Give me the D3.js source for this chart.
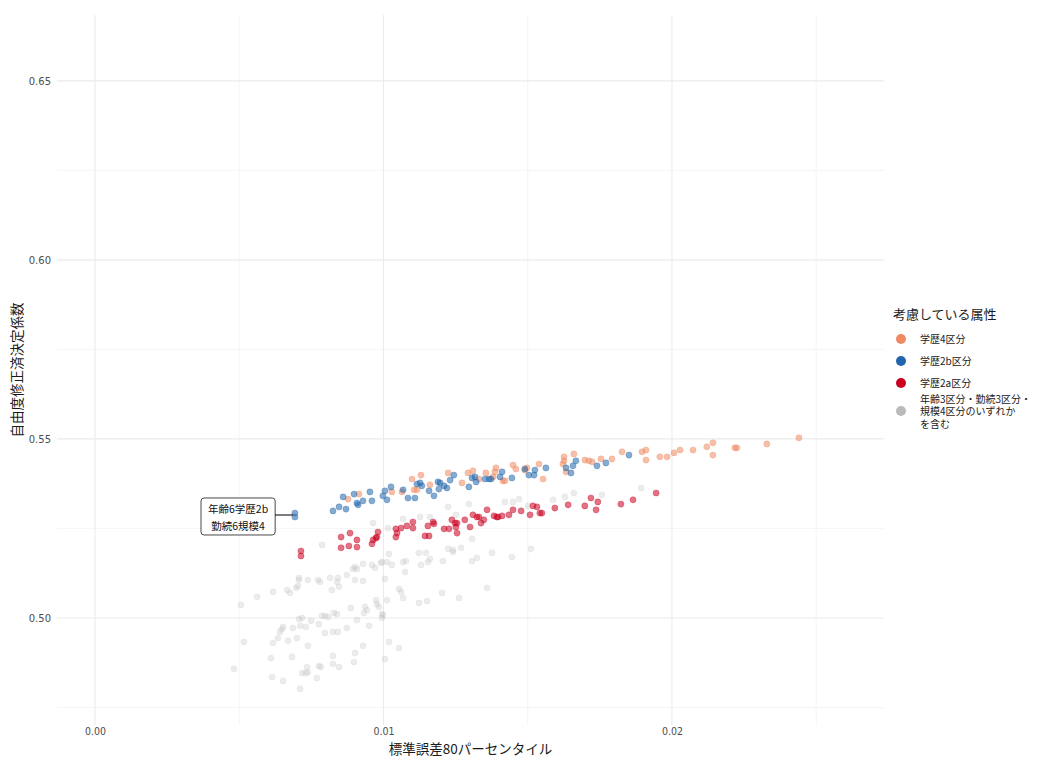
<!DOCTYPE html>
<html><head><meta charset="utf-8">
<script src="https://cdn.jsdelivr.net/npm/d3@7"></script>
<style>
body{margin:0;background:#fff;}
text{font-family:"Noto Sans CJK JP","Noto Sans",sans-serif;}
</style></head>
<body><svg id="c" width="1056" height="758"></svg>
<script>
// ---- data ----
const xMajorTicks = [0, 0.01, 0.02];
const xMinorTicks = [0.005, 0.015, 0.025];
const yMajorTicks = [0.50, 0.55, 0.60, 0.65];
const yMinorTicks = [0.475, 0.525, 0.575, 0.625];
const xLabelTitle = "標準誤差80パーセンタイル";
const yLabelTitle = "自由度修正済決定係数";
const legendTitle = "考慮している属性";
const categories = ["学歴4区分", "学歴2b区分", "学歴2a区分", "年齢3区分・勤続3区分・\n規模4区分のいずれか\nを含む"];

const orangePts = [[0.02440,0.5503],[0.02329,0.5486],[0.02218,0.5475],[0.02225,0.5475],[0.02142,0.5489],[0.02142,0.5455],[0.02121,0.5478],[0.02073,0.5469],[0.02028,0.5469],[0.02007,0.5461],[0.01983,0.5450],[0.01958,0.5450],[0.01910,0.5469],[0.01896,0.5464],[0.01910,0.5441],[0.01827,0.5464],[0.01792,0.5444],[0.01754,0.5444],[0.01723,0.5436],[0.01712,0.5439],[0.01698,0.5441],[0.01660,0.5458],[0.01626,0.5450],[0.01626,0.5439],[0.01622,0.5430],[0.01633,0.5408],[0.01553,0.5388],[0.01539,0.5430],[0.01497,0.5419],[0.01490,0.5413],[0.01459,0.5416],[0.01449,0.5427],[0.01414,0.5383],[0.01421,0.5383],[0.00877,0.5332],[0.00915,0.5346],[0.01029,0.5352],[0.01064,0.5352],[0.01106,0.5358],[0.01116,0.5358],[0.01099,0.5388],[0.01130,0.5399],[0.01161,0.5372],[0.01224,0.5405],[0.01272,0.5377],[0.01293,0.5405],[0.01310,0.5411],[0.01331,0.5388],[0.01355,0.5405],[0.01386,0.5408],[0.01390,0.5419],[0.01380,0.5394]];

const bluePts = [[0.01851,0.5455],[0.01771,0.5433],[0.01740,0.5425],[0.01667,0.5439],[0.01657,0.5425],[0.01650,0.5405],[0.01633,0.5419],[0.01563,0.5419],[0.01525,0.5413],[0.01522,0.5399],[0.01504,0.5399],[0.01490,0.5416],[0.01445,0.5391],[0.01411,0.5408],[0.00825,0.5299],[0.00846,0.5310],[0.00870,0.5304],[0.00860,0.5338],[0.00898,0.5346],[0.00908,0.5321],[0.00912,0.5316],[0.00929,0.5327],[0.00953,0.5352],[0.00960,0.5327],[0.00998,0.5341],[0.01012,0.5330],[0.01005,0.5355],[0.01026,0.5366],[0.01068,0.5358],[0.01085,0.5335],[0.01109,0.5335],[0.01116,0.5374],[0.01127,0.5377],[0.01133,0.5369],[0.01158,0.5355],[0.01175,0.5341],[0.01189,0.5380],[0.01196,0.5377],[0.01210,0.5369],[0.01220,0.5363],[0.01192,0.5360],[0.01231,0.5385],[0.01244,0.5399],[0.01296,0.5366],[0.01307,0.5391],[0.01317,0.5394],[0.01321,0.5380],[0.01352,0.5388],[0.01366,0.5388],[0.01373,0.5388],[0.01404,0.5394],[0.00693,0.5293],[0.00693,0.5282]];

const redPts = [[0.01945,0.5349],[0.01865,0.5330],[0.01823,0.5318],[0.01743,0.5324],[0.01719,0.5335],[0.01737,0.5302],[0.01698,0.5313],[0.01640,0.5316],[0.01594,0.5307],[0.01549,0.5293],[0.01542,0.5293],[0.01532,0.5310],[0.01518,0.5313],[0.01508,0.5288],[0.01477,0.5299],[0.01449,0.5302],[0.01435,0.5288],[0.01411,0.5285],[0.00853,0.5226],[0.00884,0.5237],[0.00908,0.5218],[0.00853,0.5196],[0.00880,0.5201],[0.00908,0.5198],[0.00960,0.5207],[0.00964,0.5218],[0.00974,0.5223],[0.00977,0.5226],[0.00981,0.5240],[0.00714,0.5187],[0.00714,0.5173],[0.01043,0.5249],[0.01047,0.5237],[0.01043,0.5226],[0.01061,0.5251],[0.01081,0.5257],[0.01102,0.5251],[0.01102,0.5268],[0.01144,0.5229],[0.01158,0.5229],[0.01154,0.5257],[0.01172,0.5268],[0.01175,0.5263],[0.01210,0.5249],[0.01227,0.5249],[0.01237,0.5274],[0.01248,0.5265],[0.01255,0.5265],[0.01251,0.5254],[0.01255,0.5237],[0.01282,0.5274],[0.01300,0.5254],[0.01310,0.5288],[0.01324,0.5282],[0.01331,0.5282],[0.01338,0.5265],[0.01348,0.5274],[0.01359,0.5302],[0.01383,0.5285],[0.01393,0.5282],[0.01397,0.5282]];

const grayPts = [[0.01893,0.5363],[0.01757,0.5344],[0.01660,0.5349],[0.01629,0.5338],[0.01588,0.5330],[0.01501,0.5313],[0.01470,0.5332],[0.01449,0.5324],[0.01421,0.5324],[0.00995,0.5156],[0.01012,0.5156],[0.01029,0.5148],[0.01019,0.5179],[0.01068,0.5156],[0.01078,0.5159],[0.01075,0.5128],[0.01123,0.5182],[0.01147,0.5182],[0.01130,0.5148],[0.01154,0.5156],[0.01161,0.5165],[0.01206,0.5159],[0.01224,0.5193],[0.01241,0.5190],[0.01241,0.5184],[0.01269,0.5196],[0.01307,0.5159],[0.01324,0.5168],[0.01307,0.5221],[0.01376,0.5182],[0.01445,0.5170],[0.01511,0.5193],[0.01005,0.5109],[0.01054,0.5081],[0.01061,0.5073],[0.01068,0.5056],[0.01012,0.5050],[0.01203,0.5070],[0.01262,0.5056],[0.01359,0.5084],[0.01123,0.5042],[0.01151,0.5047],[0.00998,0.5008],[0.00995,0.5000],[0.01019,0.4933],[0.01054,0.4916],[0.01005,0.4885],[0.01068,0.5277],[0.01161,0.5282],[0.01224,0.5310],[0.01296,0.5318],[0.01251,0.5288],[0.01127,0.5282],[0.01016,0.5251],[0.00964,0.5265],[0.00787,0.5204],[0.00707,0.5106],[0.00738,0.5106],[0.00773,0.5106],[0.00780,0.5101],[0.00815,0.5112],[0.00842,0.5112],[0.00839,0.5101],[0.00873,0.5120],[0.00901,0.5142],[0.00894,0.5137],[0.00908,0.5137],[0.00929,0.5151],[0.00960,0.5148],[0.00971,0.5140],[0.00991,0.5154],[0.00821,0.5078],[0.00846,0.5087],[0.00617,0.5073],[0.00562,0.5059],[0.00666,0.5078],[0.00676,0.5070],[0.00697,0.5084],[0.00704,0.5089],[0.00506,0.5036],[0.00707,0.5112],[0.00901,0.5106],[0.00929,0.5103],[0.00887,0.5028],[0.00936,0.5031],[0.00943,0.5022],[0.00932,0.5014],[0.00974,0.5050],[0.00977,0.5039],[0.00984,0.5031],[0.00995,0.5011],[0.00908,0.4994],[0.00950,0.4978],[0.00873,0.4972],[0.00842,0.4961],[0.00825,0.4961],[0.00797,0.4958],[0.00776,0.4983],[0.00749,0.4992],[0.00731,0.4975],[0.00711,0.4978],[0.00686,0.4972],[0.00718,0.5000],[0.00707,0.4997],[0.00787,0.5006],[0.00797,0.5006],[0.00808,0.5003],[0.00828,0.5014],[0.00839,0.5011],[0.00652,0.4975],[0.00648,0.4969],[0.00641,0.4961],[0.00634,0.4944],[0.00617,0.4930],[0.00669,0.4936],[0.00700,0.4944],[0.00516,0.4933],[0.00738,0.4922],[0.00683,0.4891],[0.00610,0.4888],[0.00825,0.4894],[0.00825,0.4872],[0.00846,0.4863],[0.00901,0.4902],[0.00898,0.4877],[0.00929,0.4922],[0.00735,0.4863],[0.00776,0.4866],[0.00783,0.4863],[0.00718,0.4846],[0.00731,0.4846],[0.00738,0.4849],[0.00769,0.4832],[0.00614,0.4835],[0.00652,0.4824],[0.00711,0.4802],[0.00482,0.4858]];

const labelLines = ["年齢6学歴2b", "勤続6規模4"];
const labelPos = [0.00496, 0.5282];
const labelTarget = [0.00693, 0.52875];

// ---- layout ----
const colors = ["#EF8A62", "#2166AC", "#CA0020", "#BABABA"];
const svg = d3.select("#c");
const P = {l: 57, r: 884, t: 15, b: 725};
const x = d3.scaleLinear().domain([-0.001317, 0.02735]).range([P.l, P.r]);
const y = d3.scaleLinear().domain([0.4701, 0.6684]).range([P.b, P.t]);

const grid = svg.append("g");
grid.selectAll(".vmin").data(xMinorTicks).join("line")
  .attr("x1", d => x(d)).attr("x2", d => x(d)).attr("y1", P.t).attr("y2", P.b)
  .attr("stroke", "#F2F2F2").attr("stroke-width", 0.8);
grid.selectAll(".hmin").data(yMinorTicks).join("line")
  .attr("y1", d => y(d)).attr("y2", d => y(d)).attr("x1", P.l).attr("x2", P.r)
  .attr("stroke", "#F2F2F2").attr("stroke-width", 0.8);
grid.selectAll(".vmaj").data(xMajorTicks).join("line")
  .attr("x1", d => x(d)).attr("x2", d => x(d)).attr("y1", P.t).attr("y2", P.b)
  .attr("stroke", "#EBEBEB").attr("stroke-width", 1.1);
grid.selectAll(".hmaj").data(yMajorTicks).join("line")
  .attr("y1", d => y(d)).attr("y2", d => y(d)).attr("x1", P.l).attr("x2", P.r)
  .attr("stroke", "#EBEBEB").attr("stroke-width", 1.1);

// axes (tick labels only)
const xAxis = d3.axisBottom(x).tickValues(xMajorTicks).tickFormat(d3.format(".2f")).tickSize(0).tickPadding(3);
const gx = svg.append("g").attr("transform", `translate(0,${P.b})`).call(xAxis);
gx.select(".domain").remove();
gx.selectAll("text").attr("fill", "#4D4D4D").style("font-size", "10.5px").style("font-family", "'Liberation Sans Narrow','DejaVu Sans Condensed',sans-serif");
const yAxis = d3.axisLeft(y).tickValues(yMajorTicks).tickFormat(d3.format(".2f")).tickSize(0).tickPadding(6);
const gy = svg.append("g").attr("transform", `translate(${P.l},0)`).call(yAxis);
gy.select(".domain").remove();
gy.selectAll("text").attr("fill", "#4D4D4D").style("font-size", "10px").style("font-family", "'DejaVu Sans',sans-serif");

// axis titles
svg.append("text").attr("x", (P.l + P.r) / 2).attr("y", 754).attr("text-anchor", "middle")
  .style("font-size", "13.5px").attr("fill", "#1a1a1a").text(xLabelTitle);
svg.append("text").attr("transform", `translate(22,${(P.t + P.b) / 2}) rotate(-90)`).attr("text-anchor", "middle")
  .style("font-size", "13.5px").attr("fill", "#1a1a1a").text(yLabelTitle);

// points
const series = [[grayPts, 3], [orangePts, 0], [redPts, 2], [bluePts, 1]];
series.forEach(([pts, ci]) => {
  const isGray = ci === 3;
  svg.append("g").selectAll("circle").data(pts).join("circle")
    .attr("cx", d => x(d[0])).attr("cy", d => y(d[1])).attr("r", 3.1)
    .attr("fill", colors[ci]).attr("fill-opacity", isGray ? 0.27 : 0.55)
    .attr("stroke", colors[ci]).attr("stroke-opacity", isGray ? 0.15 : 0.35).attr("stroke-width", 0.8);
});

// label
const lg = svg.append("g");
const lx = x(labelPos[0]), ly = y(labelPos[1]);
const lt = lg.append("text").attr("text-anchor", "middle").style("font-size", "10.5px").attr("fill", "#111");
labelLines.forEach((s, i) => lt.append("tspan").attr("x", lx).attr("y", ly - 3.5 + i * 17).text(s));
const bb = lt.node().getBBox();
const bw = bb.width + 14, bh = 37;
lg.insert("rect", "text").attr("x", lx - bw / 2).attr("y", ly - bh / 2 - 0.5).attr("width", bw).attr("height", bh)
  .attr("rx", 3).attr("fill", "#fff").attr("stroke", "#333").attr("stroke-width", 0.9);
lg.append("line").attr("x1", lx + bw / 2).attr("x2", x(labelTarget[0]) - 2).attr("y1", y(labelTarget[1])).attr("y2", y(labelTarget[1]))
  .attr("stroke", "#111").attr("stroke-width", 1.1);

// legend
const leg = svg.append("g").attr("transform", "translate(893,0)");
leg.append("text").attr("x", 0).attr("y", 319).style("font-size", "13px").attr("fill", "#1a1a1a").text(legendTitle);
const legY = [339, 361, 383, 411];
categories.forEach((c, i) => {
  leg.append("circle").attr("cx", 8).attr("cy", legY[i]).attr("r", 5).attr("fill", colors[i]);
  const lines = c.split("\n");
  const t = leg.append("text").style("font-size", "10px").attr("fill", "#1a1a1a");
  lines.forEach((s, j) => t.append("tspan").attr("x", 27).attr("y", legY[i] + 4 + (j - (lines.length - 1) / 2) * 12.5).text(s));
});
</script>
</body></html>
